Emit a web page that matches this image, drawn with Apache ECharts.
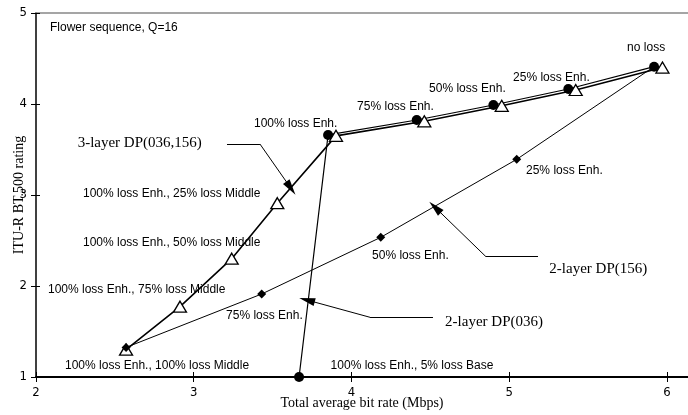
<!DOCTYPE html>
<html>
<head>
<meta charset="utf-8">
<script src="https://cdn.jsdelivr.net/npm/echarts@6/dist/echarts.min.js"></script>
<style>
html,body{margin:0;padding:0;background:#fff}
#main{width:688px;height:415px}
</style>
</head>
<body>
<div id="main"></div>
<script>
// 2-layer DP(036) : filled circles
var rate036 = [3.668, 3.852, 4.414, 4.900, 5.375, 5.919];
var score036 = [1.00, 3.66, 3.824, 3.989, 4.165, 4.41];
// 3-layer DP(036,156) : open triangles
var rate3L = [2.571, 2.913, 3.241, 3.530, 3.902, 4.462, 4.953, 5.422, 5.972];
var score3L = [1.30, 1.773, 2.30, 2.91, 3.65, 3.81, 3.98, 4.154, 4.40];
// 2-layer DP(156) : filled diamonds
var rate156 = [2.571, 3.431, 4.186, 5.048, 5.910];
var score156 = [1.325, 1.912, 2.535, 3.392, 4.40];

var xTicks = ['2', '3', '4', '5', '6'];
var yTicks = ['1', '2', '3', '4', '5'];

// point annotations [text, x, y] (left edge, middle)
var pointNotes = [
  ['Flower sequence, Q=16', 2.089, 4.835],
  ['100% loss Enh.', 3.382, 3.780],
  ['75% loss Enh.', 4.036, 3.967],
  ['50% loss Enh.', 4.492, 4.165],
  ['25% loss Enh.', 5.025, 4.286],
  ['no loss', 5.748, 4.615],
  ['25% loss Enh.', 5.107, 3.264],
  ['100% loss Enh., 25% loss Middle', 2.298, 3.011],
  ['100% loss Enh., 50% loss Middle', 2.298, 2.473],
  ['100% loss Enh., 75% loss Middle', 2.076, 1.956],
  ['75% loss Enh.', 3.205, 1.670],
  ['100% loss Enh., 100% loss Middle', 2.184, 1.121],
  ['50% loss Enh.', 4.131, 2.330],
  ['100% loss Enh., 5% loss Base', 3.868, 1.121]
];
// series names [text, x, y]
var seriesNotes = [
  ['3-layer DP(036,156)', 2.264, 3.571],
  ['2-layer DP(156)', 5.255, 2.187],
  ['2-layer DP(036)', 4.594, 1.608]
];
// arrows: polyline points, last one is the tip
var arrows = [
  [[3.211, 3.56], [3.420, 3.56], [3.616, 3.075]],
  [[5.183, 2.322], [4.853, 2.322], [4.530, 2.865]],
  [[4.517, 1.656], [4.118, 1.656], [3.718, 1.846]]
];

function pairs(xs, ys){
  var res = [];
  for(var i=0;i<xs.length;i++){ res.push([xs[i], ys[i]]); }
  return res;
}

function arrowLines(list){
  var res = [];
  for(var i=0;i<list.length;i++){
    var p = list[i];
    for(var j=0;j<p.length-1;j++){
      var last = (j == p.length-2);
      res.push([
        {coord: p[j], symbol: 'none'},
        {coord: p[j+1], symbol: last ? 'triangle' : 'none', symbolSize: [8, 16]}
      ]);
    }
  }
  return res;
}

var diamondData = pairs(rate156, score156).map(function(v, i){
  return i == rate156.length-1 ? {value: v, symbol: 'none'} : v;
});

var chart = echarts.init(document.getElementById('main'), null, {renderer: 'canvas'});
var tickFont = "'Liberation Sans Narrow', 'DejaVu Sans Condensed', sans-serif";
var serif = "'Liberation Serif', 'DejaVu Serif', serif";

chart.setOption({
  animation: false,
  backgroundColor: '#fff',
  grid: {left: 36, top: 13, right: 0, bottom: 38, outerBoundsMode: 'none', containLabel: false},
  xAxis: [
    {
      type: 'value', min: 2, max: 6.134, interval: 1, position: 'bottom',
      name: 'Total average bit rate (Mbps)', nameLocation: 'middle', nameGap: 19,
      nameMoveOverlap: false,
      nameTextStyle: {fontFamily: serif, fontSize: 14, color: '#000', verticalAlign: 'top'},
      axisLine: {onZero: false, lineStyle: {color: '#000', width: 2}},
      axisTick: {show: true, length: 5, lineStyle: {color: '#000'}},
      axisLabel: {
        fontFamily: tickFont, fontSize: 13, color: '#000', margin: 9,
        formatter: function(v){ var k = xTicks.indexOf(String(v)); return k >= 0 ? xTicks[k] : ''; }
      },
      splitLine: {show: false}
    },
    {
      type: 'value', min: 2, max: 6.134, interval: 1, position: 'bottom',
      axisLine: {show: false, onZero: false},
      axisTick: {show: true, inside: true, length: 5, lineStyle: {color: '#000'}},
      axisLabel: {show: false}, splitLine: {show: false}
    },
    {
      type: 'value', min: 2, max: 6.134, position: 'top',
      axisLine: {show: true, onZero: false, lineStyle: {color: '#888', width: 1.5}},
      axisTick: {show: false}, axisLabel: {show: false}, splitLine: {show: false}
    }
  ],
  yAxis: [
    {
      type: 'value', min: 1, max: 5, interval: 1, position: 'left',
      name: 'ITU-R BT.500 rating', nameLocation: 'middle', nameGap: 10,
      nameMoveOverlap: false,
      nameTextStyle: {fontFamily: serif, fontSize: 14, color: '#000'},
      axisLine: {show: true, onZero: false, lineStyle: {color: '#000', width: 1.5}},
      axisTick: {show: true, length: 5, lineStyle: {color: '#000'}},
      axisLabel: {
        fontFamily: tickFont, fontSize: 13, color: '#000', margin: 9,
        formatter: function(v){ return yTicks[v-1] || ''; }
      },
      splitLine: {show: false}
    },
    {
      type: 'value', min: 1, max: 5, interval: 1, position: 'left',
      axisLine: {show: false, onZero: false},
      axisTick: {show: true, inside: true, length: 4, lineStyle: {color: '#000'}},
      axisLabel: {show: false}, splitLine: {show: false}
    }
  ],
  series: [
    {
      name: '2-layer DP(036)', type: 'line', z: 3,
      data: pairs(rate036, score036),
      symbol: 'circle', symbolSize: 10,
      itemStyle: {color: '#000'},
      lineStyle: {color: '#000', width: 1.2}
    },
    {
      name: '3-layer DP(036,156)', type: 'line', z: 4,
      data: pairs(rate3L, score3L),
      symbol: 'triangle', symbolSize: [13, 11], showAllSymbol: true,
      itemStyle: {color: '#fff', borderColor: '#000', borderWidth: 1.3},
      lineStyle: {color: '#000', width: 1.6}
    },
    {
      name: '2-layer DP(156)', type: 'line', z: 5,
      data: diamondData,
      symbol: 'diamond', symbolSize: 9,
      itemStyle: {color: '#000'},
      lineStyle: {color: '#000', width: 1},
      markLine: {
        silent: true, animation: false,
        label: {show: false},
        lineStyle: {color: '#000', width: 1, type: 'solid'},
        data: arrowLines(arrows)
      }
    }
  ]
});

var graphics = [];
pointNotes.forEach(function(n, i){
  var p = chart.convertToPixel({gridIndex: 0}, [n[1], n[2]]);
  graphics.push({
    type: 'text', x: p[0], y: p[1], z: 10,
    style: {text: n[0], fill: '#000', font: "12px 'Liberation Sans', Arial, sans-serif",
      textAlign: 'left', textVerticalAlign: 'middle'}
  });
});
seriesNotes.forEach(function(n){
  var p = chart.convertToPixel({gridIndex: 0}, [n[1], n[2]]);
  graphics.push({
    type: 'text', x: p[0], y: p[1], z: 10,
    style: {text: n[0], fill: '#000', font: "15px 'Liberation Serif', 'Times New Roman', serif",
      textAlign: 'left', textVerticalAlign: 'middle'}
  });
});
chart.setOption({graphic: graphics});
</script>
</body>
</html>
